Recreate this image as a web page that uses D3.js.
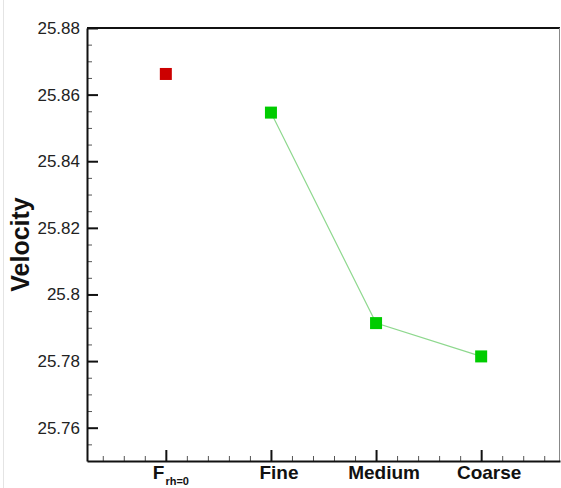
<!DOCTYPE html>
<html>
<head>
<meta charset="utf-8">
<script src="https://cdn.jsdelivr.net/npm/d3@7"></script>
<style>
    body { margin: 0; background: #fff; }
    svg { display: block; font-family: 'Liberation Sans', Arial, sans-serif; }
</style>
</head>
<body>
<div id="chart"></div>
<script>
// Chart values
const categories = ['F', 'Fine', 'Medium', 'Coarse'];
const positions = [1, 2, 3, 4];
const refValue = 25.8662;              // F rh=0 point (red)
const meshValues = [25.8546, 25.7914, 25.7814]; // Fine, Medium, Coarse (green)
const yTicks = [25.76, 25.78, 25.8, 25.82, 25.84, 25.86, 25.88];
const yTickLabels = ['25.76', '25.78', '25.8', '25.82', '25.84', '25.86', '25.88'];

const width = 561,
    height = 488;
const margin = { left: 87, right: 1, top: 28, bottom: 27 };

const svg = d3
    .select('#chart')
    .append('svg')
    .attr('width', width)
    .attr('height', height);

const x = d3
    .scaleLinear()
    .domain([0.25, 4.75])
    .range([margin.left, width - margin.right]);
const y = d3
    .scaleLinear()
    .domain([25.75, 25.88])
    .range([height - margin.bottom, margin.top]);

// faint page edge on the left
svg.append('line')
    .attr('x1', 3.5).attr('x2', 3.5)
    .attr('y1', 0).attr('y2', height)
    .attr('stroke', '#e4e4e4');

// frame: top thick black, right thin grey
svg.append('line')
    .attr('x1', x(0.25)).attr('x2', x(4.75))
    .attr('y1', y(25.88)).attr('y2', y(25.88))
    .attr('stroke', '#111').attr('stroke-width', 2);
svg.append('line')
    .attr('x1', x(4.75) - 0.5).attr('x2', x(4.75) - 0.5)
    .attr('y1', y(25.88)).attr('y2', y(25.75))
    .attr('stroke', '#888').attr('stroke-width', 1);

// y axis, ticks pointing inside (minor and major in separate groups)
const yMinor = d3.range(25.755, 25.88, 0.005).filter(
    (v) => !yTicks.some((t) => Math.abs(t - v) < 1e-6)
);
svg.append('g')
    .attr('transform', `translate(${margin.left},0)`)
    .call(d3.axisRight(y).tickValues(yMinor).tickSize(5).tickFormat(''))
    .call((g) => g.select('.domain').remove())
    .call((g) => g.selectAll('.tick line').attr('stroke', '#555').attr('stroke-width', 1));
svg.append('g')
    .attr('transform', `translate(${margin.left},0)`)
    .call(d3.axisRight(y).tickValues(yTicks).tickSize(11).tickSizeOuter(0).tickFormat(''))
    .call((g) => g.select('.domain').attr('stroke', '#111').attr('stroke-width', 2))
    .call((g) => g.selectAll('.tick line').attr('stroke', '#111').attr('stroke-width', 2));

svg.append('g')
    .selectAll('text')
    .data(yTicks)
    .join('text')
    .attr('x', margin.left - 7)
    .attr('y', (d) => y(d) + 6)
    .attr('text-anchor', 'end')
    .attr('font-size', 17)
    .attr('fill', '#222')
    .text((d, i) => yTickLabels[i]);

// x axis, ticks pointing up
const xMinor = d3.range(0.4, 4.74, 0.2).filter(
    (v) => !positions.some((p) => Math.abs(p - v) < 1e-6)
);
svg.append('g')
    .attr('transform', `translate(0,${height - margin.bottom})`)
    .call(d3.axisTop(x).tickValues(xMinor).tickSize(5).tickFormat(''))
    .call((g) => g.select('.domain').remove())
    .call((g) => g.selectAll('.tick line').attr('stroke', '#555').attr('stroke-width', 1));
svg.append('g')
    .attr('transform', `translate(0,${height - margin.bottom})`)
    .call(d3.axisTop(x).tickValues(positions).tickSize(11).tickSizeOuter(0).tickFormat(''))
    .call((g) => g.select('.domain').attr('stroke', '#111').attr('stroke-width', 2))
    .call((g) => g.selectAll('.tick line').attr('stroke', '#111').attr('stroke-width', 2));

const labels = svg.append('g')
    .selectAll('text')
    .data(categories)
    .join('text')
    .attr('x', (d, i) => x(positions[i]) + 8)
    .attr('y', height - 9)
    .attr('text-anchor', 'middle')
    .attr('font-size', 19)
    .attr('font-weight', 'bold')
    .attr('fill', '#111');
labels.filter((d, i) => i > 0).text((d) => d);
labels.filter((d, i) => i === 0)
    .attr('text-anchor', 'start')
    .attr('x', x(positions[0]) - 13)
    .call((t) => {
        t.append('tspan').text('F');
        t.append('tspan')
            .attr('font-size', 11)
            .attr('dy', 6)
            .attr('dx', 1)
            .text('rh=0');
    });

// y title
svg.append('text')
    .attr('transform', `translate(29,${y(25.815)}) rotate(-90)`)
    .attr('text-anchor', 'middle')
    .attr('font-size', 25)
    .attr('font-weight', 'bold')
    .attr('fill', '#111')
    .text('Velocity');

// green line through mesh results
const meshPts = meshValues.map((v, i) => [positions[i + 1], v]);
svg.append('path')
    .datum(meshPts)
    .attr('fill', 'none')
    .attr('stroke', '#8ed88e')
    .attr('stroke-width', 1.2)
    .attr('d', d3.line().x((d) => x(d[0])).y((d) => y(d[1])));

const size = 12;
svg.append('g')
    .selectAll('rect')
    .data(meshPts)
    .join('rect')
    .attr('x', (d) => x(d[0]) - size / 2)
    .attr('y', (d) => y(d[1]) - size / 2)
    .attr('width', size)
    .attr('height', size)
    .attr('fill', '#00cc00');

svg.append('rect')
    .attr('x', x(positions[0]) - size / 2)
    .attr('y', y(refValue) - size / 2)
    .attr('width', size)
    .attr('height', size)
    .attr('fill', '#cc0000');
</script>
</body>
</html>
